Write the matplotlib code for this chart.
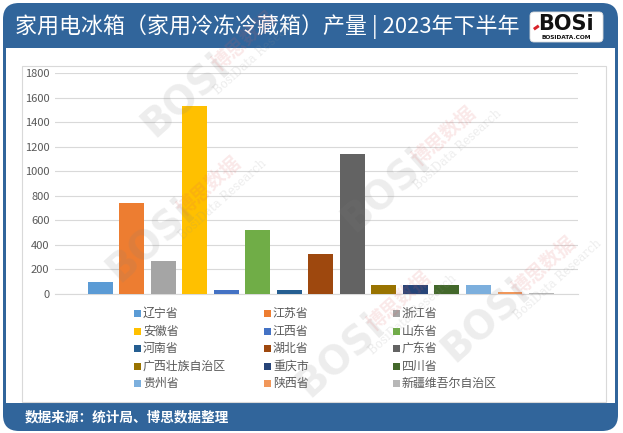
import numpy as np
import matplotlib
matplotlib.use('Agg')
import matplotlib.pyplot as plt
from matplotlib.patches import Rectangle, FancyBboxPatch

plt.rcParams['font.family'] = ['Noto Sans CJK SC', 'DejaVu Sans']

# data
provinces = ['辽宁省', '江苏省', '浙江省', '安徽省', '江西省', '山东省', '河南省', '湖北省',
             '广东省', '广西壮族自治区', '重庆市', '四川省', '贵州省', '陕西省', '新疆维吾尔自治区']
output = [95, 738, 265, 1532, 28, 518, 28, 322, 1140, 68, 68, 68, 68, 9, 6]
yticks = [0, 200, 400, 600, 800, 1000, 1200, 1400, 1600, 1800]

title = '家用电冰箱（家用冷冻冷藏箱）产量 | 2023年下半年'
source = '数据来源：统计局、博思数据整理'

cols = ['#5b9bd5', '#ed7d31', '#a5a5a5', '#ffc000', '#4472c4', '#70ad47', '#255e91',
        '#9e480e', '#636363', '#997300', '#264478', '#43682b', '#7cafdd', '#f1975a', '#b7b7b7']

blue = '#31659b'
W, H = 623, 433


def fig_rect(x0, y0, x1, y1):
    # pixel box (top-left origin) -> figure fraction
    return [x0 / W, 1 - y1 / H, (x1 - x0) / W, (y1 - y0) / H]


fig = plt.figure(figsize=(W / 100, H / 100), dpi=100)
fig.patch.set_facecolor('white')

# background frame, pixel coordinates
bg = fig.add_axes([0, 0, 1, 1])
bg.set_xlim(0, W); bg.set_ylim(H, 0)
bg.set_axis_off()

bg.add_patch(FancyBboxPatch((3, 3), 615, 428, boxstyle='round,pad=0,rounding_size=16',
                            facecolor=blue, edgecolor='none'))
bg.add_patch(Rectangle((6, 48), 609, 355, facecolor='white', edgecolor='none'))
bg.add_patch(Rectangle((22, 66), 584, 336, facecolor='none', edgecolor='#d9d9d9', lw=0.8))

bg.text(15, 27, title, color='white', fontsize=15.8, va='center', ha='left')
bg.text(25, 417, source, color='white', fontsize=9.8, fontweight='bold', va='center', ha='left')

# logo
bg.add_patch(FancyBboxPatch((530, 12), 73, 30, boxstyle='round,pad=0,rounding_size=4',
                            facecolor='white', edgecolor='#dddddd', lw=0.6))
bg.text(566, 24, 'BOSi', color='#111111', fontsize=15, fontweight='bold',
        family='DejaVu Sans', ha='center', va='center')
bg.text(566, 37.5, 'BOSIDATA.COM', color='#111111', fontsize=4.2, fontweight='bold',
        family='DejaVu Sans', ha='center', va='center')
bg.add_patch(Rectangle((533, 28), 6, 3, angle=-35, facecolor='#d8232a', edgecolor='none'))

# legend, three equal columns like the original
leg_x = [134, 264, 393]
leg_y = [313, 331, 348, 366, 383]
for i, (name, c) in enumerate(zip(provinces, cols)):
    x = leg_x[i % 3]
    y = leg_y[i // 3]
    bg.add_patch(Rectangle((x, y - 3.5), 7, 7, facecolor=c, edgecolor='none'))
    bg.text(x + 9, y, name, color='#595959', fontsize=8.6, va='center', ha='left')

# bar chart
ax = fig.add_axes(fig_rect(55, 73.3, 578, 293.5))
ax.set_facecolor('none')
xs = np.arange(len(provinces))
ax.bar(xs, output, width=0.79, color=cols, zorder=3)
ax.set_xlim(-1.44, 15.16)
ax.set_ylim(0, 1800)
ax.set_yticks(yticks)
ax.set_xticks([])
ax.tick_params(axis='y', length=0, pad=4, labelsize=8, labelcolor='#595959')
ax.grid(axis='y', color='#d9d9d9', lw=0.8, zorder=0)
for s in ['top', 'right', 'left']:
    ax.spines[s].set_visible(False)
ax.spines['bottom'].set_color('#d9d9d9')
ax.spines['bottom'].set_linewidth(0.8)

# faint watermarks on top
wm = fig.add_axes([0, 0, 1, 1], zorder=10)
wm.set_xlim(0, W); wm.set_ylim(H, 0)
wm.set_axis_off()
wm.patch.set_alpha(0)
logos = [(185, 95), (150, 240), (385, 190), (340, 355), (485, 320)]
ang = np.deg2rad(42)
for (x, y) in logos:
    wm.text(x, y, 'BOSi', color='#808080', alpha=0.14, fontsize=28, fontweight='bold',
            family='DejaVu Sans', rotation=42, ha='center', va='center')
    bx, by = x + 80 * np.cos(ang), y - 80 * np.sin(ang)
    wm.text(bx, by, '博思数据', color='#e06060', alpha=0.14, fontsize=14, fontweight='bold',
            rotation=42, ha='center', va='center')
    wm.text(bx + 13, by + 13, 'BosiData Research', color='#909090', alpha=0.16, fontsize=8.5,
            family='DejaVu Serif', rotation=42, ha='center', va='center')

fig.savefig('out.png', dpi=100, facecolor='white')
